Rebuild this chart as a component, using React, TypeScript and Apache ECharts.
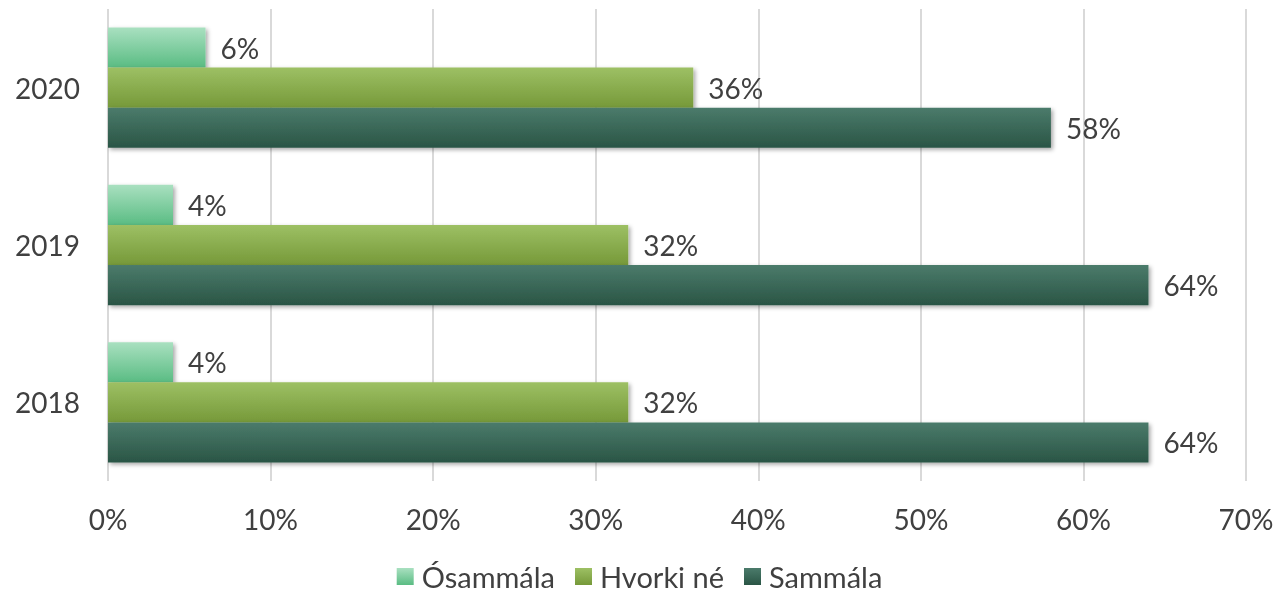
import React, { useEffect, useRef } from "react";
import * as echarts from "echarts";

const categories = ["2018", "2019", "2020"];
const xTicks = [0, 10, 20, 30, 40, 50, 60, 70];
const osammala = [4, 4, 6];
const hvorkiNe = [32, 32, 36];
const sammala = [64, 64, 58];

const grad = (top: string, bottom: string) =>
  new echarts.graphic.LinearGradient(0, 0, 0, 1, [
    { offset: 0, color: top },
    { offset: 1, color: bottom },
  ]);

export default function App() {
  const ref = useRef<HTMLDivElement>(null);
  useEffect(() => {
    if (!ref.current) return;
    const chart = echarts.init(ref.current, null, { renderer: "svg" });
    const font = "Lato, 'Open Sans', sans-serif";
    const mkSeries = (name: string, data: number[], top: string, bottom: string) => ({
      name,
      type: "bar",
      data,
      barGap: "0%",
      barCategoryGap: "23.5%",
      itemStyle: {
        color: grad(top, bottom),
        shadowColor: "rgba(0,0,0,0.35)",
        shadowBlur: 4,
        shadowOffsetX: 2,
        shadowOffsetY: 2,
      },
      label: {
        show: true,
        position: "right",
        distance: 15,
        formatter: "{c}%",
        color: "#404040",
        fontSize: 28,
        fontFamily: font,
      },
    });
    chart.setOption({
      animation: false,
      textStyle: { fontFamily: font },
      grid: { left: 108, right: 33, top: 9, bottom: 116, containLabel: false },
      legend: {
        bottom: 1,
        left: "center",
        itemWidth: 17,
        itemHeight: 17,
        itemGap: 20,
        icon: "rect",
        textStyle: { fontSize: 29, color: "#404040", fontFamily: font, padding: [0, 0, 0, 3] },
        data: ["Ósammála", "Hvorki né", "Sammála"],
      },
      xAxis: {
        type: "value",
        min: 0,
        max: 70,
        interval: 10,
        axisLine: { show: false },
        axisTick: { show: false },
        splitLine: { show: true, lineStyle: { color: "#d9d9d9", width: 2 } },
        axisLabel: {
          formatter: (v: number) => (xTicks.includes(v) ? v + "%" : ""),
          fontSize: 28,
          color: "#404040",
          margin: 24,
          fontFamily: font,
        },
      },
      yAxis: {
        type: "category",
        data: categories,
        axisLine: { show: false },
        axisTick: { show: false },
        axisLabel: { fontSize: 28, color: "#404040", margin: 28, fontFamily: font },
      },
      series: [
        mkSeries("Ósammála", osammala, "#a9e0c0", "#5abc83"),
        mkSeries("Hvorki né", hvorkiNe, "#9dc064", "#769939"),
        mkSeries("Sammála", sammala, "#4b7b6b", "#2a5545"),
      ],
    });
    return () => chart.dispose();
  }, []);
  return (
    <div
      ref={ref}
      style={{ position: "fixed", left: 0, top: 0, width: 1279, height: 597 }}
    />
  );
}
